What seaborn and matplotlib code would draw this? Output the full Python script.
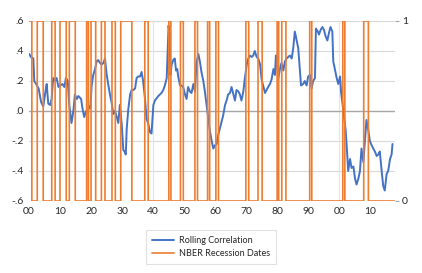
import numpy as np
import pandas as pd
import matplotlib
matplotlib.use('Agg')
import matplotlib.pyplot as plt
import seaborn as sns

sns.set_theme(style='white')
plt.rcParams['font.family'] = ['Lato', 'DejaVu Sans']

# rolling correlation (decimal year, value)
corr_year = [
    1900.1, 1900.6, 1901.4, 1901.7, 1902.3, 1903.1, 1903.9, 1904.6, 1905.3, 1905.7,
    1906.2, 1906.8, 1907.3, 1907.8, 1908.4, 1908.9, 1909.5, 1910.0, 1910.8, 1911.4,
    1911.9, 1912.5, 1913.0, 1913.7, 1914.3, 1914.8, 1915.4, 1915.9, 1916.8, 1917.3,
    1917.8, 1918.4, 1918.9, 1919.4, 1919.8, 1920.2, 1920.7, 1921.3, 1921.8, 1922.3,
    1922.9, 1923.4, 1924.0, 1924.5, 1925.0, 1925.6, 1926.1, 1926.6, 1927.2, 1927.7,
    1928.3, 1928.8, 1929.3, 1929.9, 1930.4, 1930.8, 1931.2, 1931.5, 1932.0, 1932.6,
    1933.1, 1933.6, 1934.2, 1934.7, 1935.2, 1935.8, 1936.3, 1936.8, 1937.4, 1937.9,
    1938.5, 1939.0, 1939.5, 1940.1, 1940.6, 1941.7, 1942.7, 1943.3, 1943.8, 1944.4,
    1944.7, 1945.0, 1945.3, 1945.6, 1946.0, 1946.5, 1947.0, 1947.4, 1947.8, 1948.1,
    1948.7, 1949.2, 1949.7, 1950.3, 1950.8, 1951.3, 1951.9, 1952.4, 1953.0, 1953.5,
    1954.0, 1954.6, 1955.1, 1955.6, 1956.2, 1956.7, 1957.2, 1957.8, 1958.3, 1958.9,
    1959.4, 1959.9, 1960.5, 1961.0, 1961.5, 1962.1, 1962.6, 1963.2, 1963.7, 1964.2,
    1964.8, 1965.3, 1965.8, 1966.4, 1966.9, 1967.5, 1968.0, 1968.5, 1969.1, 1969.6,
    1970.2, 1970.7, 1971.2, 1971.8, 1972.3, 1972.8, 1973.4, 1973.9, 1974.5, 1975.0,
    1975.5, 1976.1, 1976.6, 1977.1, 1977.7, 1978.2, 1978.8, 1979.3, 1979.6, 1980.0,
    1980.4, 1980.9, 1981.4, 1982.0, 1982.5, 1983.0, 1983.6, 1984.1, 1984.7, 1985.2,
    1985.7, 1986.3, 1986.8, 1987.3, 1987.7, 1988.4, 1988.9, 1989.5, 1990.0, 1990.6,
    1991.1, 1991.6, 1992.2, 1992.5, 1993.1, 1993.5, 1994.0, 1994.6, 1995.1, 1995.6,
    1996.2, 1996.7, 1997.2, 1997.8, 1998.1, 1998.6, 1999.2, 1999.7, 2000.3, 2000.6,
    2001.0, 2001.5, 2002.1, 2002.6, 2002.9, 2003.5, 2004.0, 2004.6, 2005.1, 2005.6,
    2006.2, 2006.7, 2007.2, 2007.8, 2008.3, 2008.8, 2009.4, 2009.9, 2010.5, 2011.0,
    2011.5, 2012.1, 2012.6, 2013.1, 2013.7, 2014.2, 2014.7, 2015.3, 2015.8, 2016.4,
    2016.9, 2017.2,
]
corr_value = [
    0.38, 0.36, 0.35, 0.20, 0.18, 0.15, 0.06, 0.03, 0.13, 0.18,
    0.05, 0.04, 0.08, 0.22, 0.20, 0.22, 0.16, 0.17, 0.18, 0.16,
    0.22, 0.20, 0.04, -0.08, 0.00, 0.11, 0.08, 0.10, 0.08, 0.01,
    -0.04, 0.00, -0.01, 0.03, 0.02, 0.17, 0.24, 0.28, 0.33, 0.34,
    0.32, 0.31, 0.32, 0.35, 0.25, 0.17, 0.11, 0.06, -0.02, 0.00,
    -0.04, -0.08, 0.04, -0.09, -0.26, -0.27, -0.29, -0.12, 0.01, 0.11,
    0.14, 0.14, 0.15, 0.22, 0.23, 0.23, 0.26, 0.20, 0.08, -0.05,
    -0.09, -0.14, -0.15, 0.04, 0.07, 0.10, 0.12, 0.14, 0.17, 0.22,
    0.40, 0.57, 0.51, 0.24, 0.31, 0.34, 0.35, 0.27, 0.28, 0.23,
    0.17, 0.17, 0.16, 0.11, 0.08, 0.16, 0.13, 0.12, 0.18, 0.13,
    0.32, 0.38, 0.33, 0.26, 0.20, 0.13, 0.05, -0.05, -0.13, -0.20,
    -0.25, -0.23, -0.22, -0.16, -0.12, -0.07, -0.03, 0.04, 0.07, 0.11,
    0.12, 0.16, 0.12, 0.07, 0.14, 0.13, 0.11, 0.07, 0.13, 0.22,
    0.31, 0.35, 0.37, 0.36, 0.37, 0.40, 0.36, 0.35, 0.31, 0.21,
    0.17, 0.12, 0.14, 0.16, 0.18, 0.21, 0.28, 0.24, 0.37, 0.31,
    0.22, 0.28, 0.32, 0.27, 0.33, 0.35, 0.36, 0.37, 0.35, 0.42,
    0.53, 0.47, 0.42, 0.28, 0.17, 0.18, 0.20, 0.17, 0.23, 0.24,
    0.15, 0.20, 0.22, 0.55, 0.53, 0.51, 0.54, 0.56, 0.54, 0.50,
    0.47, 0.52, 0.56, 0.53, 0.33, 0.28, 0.22, 0.18, 0.23, 0.13,
    0.06, -0.03, -0.13, -0.29, -0.40, -0.32, -0.38, -0.37, -0.45, -0.49,
    -0.45, -0.40, -0.25, -0.34, -0.20, -0.06, -0.13, -0.20, -0.23, -0.25,
    -0.27, -0.30, -0.29, -0.27, -0.40, -0.50, -0.53, -0.42, -0.40, -0.32,
    -0.29, -0.22,
]

# NBER business cycle peaks and troughs
rec_peaks = ['1899-06', '1902-09', '1907-05', '1910-01', '1913-01', '1918-08',
             '1920-01', '1923-05', '1926-10', '1929-08', '1937-05', '1945-02',
             '1948-11', '1953-07', '1957-08', '1960-04', '1969-12', '1973-11',
             '1980-01', '1981-07', '1990-07', '2001-03', '2007-12']
rec_troughs = ['1900-12', '1904-08', '1908-06', '1912-01', '1914-12', '1919-03',
               '1921-07', '1924-07', '1927-11', '1933-03', '1938-06', '1945-10',
               '1949-10', '1954-05', '1958-04', '1961-02', '1970-11', '1975-03',
               '1980-07', '1982-11', '1991-03', '2001-11', '2009-06']

left_ticks = [0.6, 0.4, 0.2, 0.0, -0.2, -0.4, -0.6]
left_labels = ['.6', '.4', '.2', '.0', '-.2', '-.4', '-.6']
x_ticks = list(range(1900, 2020, 10))
x_labels = ['00', '10', '20', '30', '40', '50', '60', '70', '80', '90', '00', '10']

# monthly 0/1 recession flag
months = pd.date_range('1900-01', '2018-01', freq='MS')
rec_flag = np.zeros(len(months))
for p, t in zip(rec_peaks, rec_troughs):
    rec_flag[(months >= pd.Timestamp(p)) & (months < pd.Timestamp(t))] = 1
rec_x = months.year + (months.month - 1) / 12

BLUE = '#4472C4'
ORANGE = '#ED7D31'
TXT = '#262626'

fig = plt.figure(figsize=(4.22, 2.73), dpi=100)
ax = fig.add_axes([29 / 422, 1 - 201 / 273, 366 / 422, 180 / 273])

for v in [0.6, 0.4, 0.2, -0.2, -0.4]:
    ax.axhline(v, color='#D9D9D9', lw=0.8, zorder=0)
for v in [1940, 2000]:
    ax.axvline(v, color='#E3E3E3', lw=0.8, zorder=0)
ax.axhline(0, color='#A6A6A6', lw=1.0, zorder=1)

sns.lineplot(x=corr_year, y=corr_value, ax=ax, color=BLUE, lw=1.4, zorder=2)
ax.set_xlim(1900, 2018)
ax.set_ylim(-0.6, 0.6)
ax.set_yticks(left_ticks)
ax.set_yticklabels(left_labels)
ax.set_xticks(x_ticks)
ax.set_xticklabels(x_labels)
ax.tick_params(axis='y', length=0, pad=4, labelsize=7.5, labelcolor=TXT)
ax.tick_params(axis='x', length=0, pad=4, labelsize=7.5, labelcolor=TXT)
ax.set_xlabel('')
ax.set_ylabel('')
for s in ax.spines.values():
    s.set_visible(False)

ax2 = ax.twinx()
sns.lineplot(x=rec_x, y=rec_flag, ax=ax2, color=ORANGE, lw=1.2,
             drawstyle='steps-post', estimator=None)
ax2.set_ylim(0, 1)
ax2.set_yticks([0, 1])
ax2.set_yticklabels(['0', '1'])
ax2.tick_params(axis='y', length=3, width=0.8, color='#A6A6A6', pad=2,
                labelsize=7.5, labelcolor=TXT)
ax2.set_ylabel('')
for s in ax2.spines.values():
    s.set_visible(False)
ax2.set_xlim(1900, 2018)

handles = [plt.Line2D([], [], color=BLUE, lw=1.4),
           plt.Line2D([], [], color=ORANGE, lw=1.2)]
leg = fig.legend(handles, ['Rolling Correlation', 'NBER Recession Dates'],
                 loc='center', bbox_to_anchor=(211 / 422, 1 - 247 / 273),
                 fontsize=6.5, frameon=True, fancybox=False, edgecolor='#D9D9D9',
                 handlelength=2.4, handletextpad=0.6, labelspacing=0.5,
                 borderpad=0.6)
leg.get_frame().set_linewidth(0.8)
for t in leg.get_texts():
    t.set_color(TXT)

fig.savefig('out.png', dpi=100)
